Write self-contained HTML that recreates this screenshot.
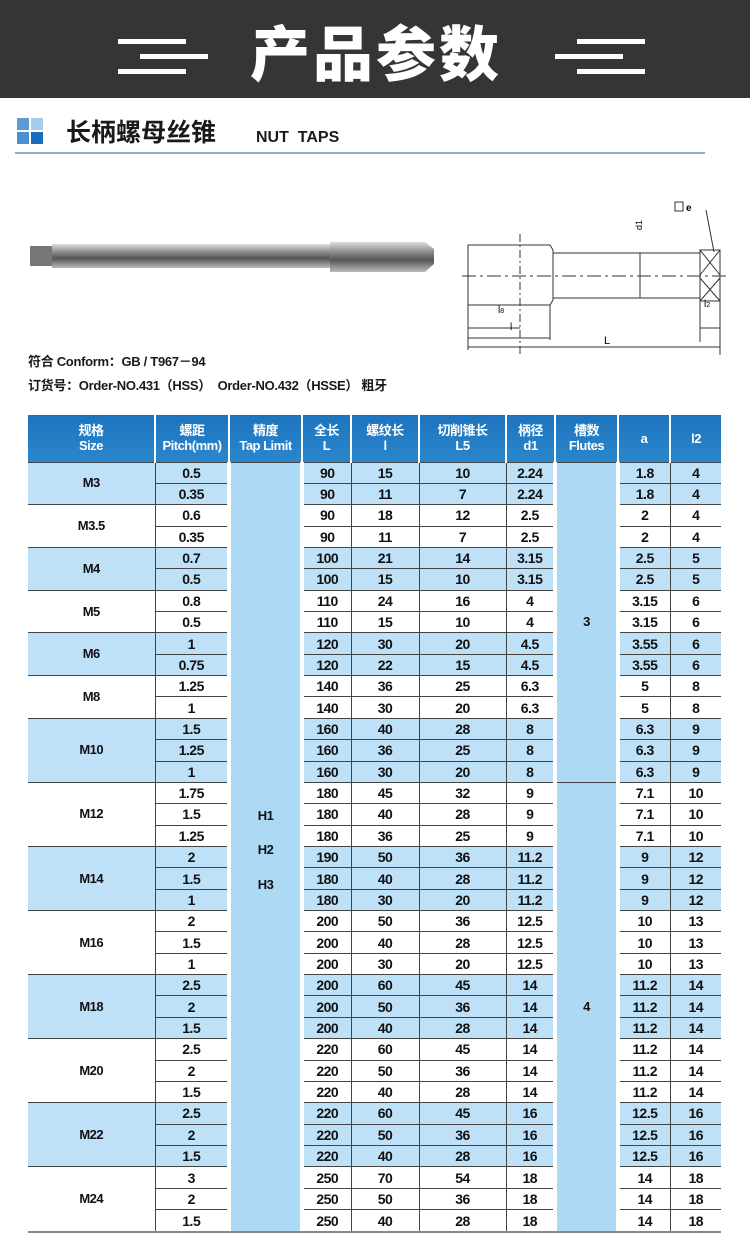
<!DOCTYPE html>
<html><head><meta charset="utf-8">
<style>
*{margin:0;padding:0;box-sizing:border-box}
body{width:750px;height:1244px;background:#fff;position:relative;overflow:hidden;font-family:"Liberation Sans","Noto Sans CJK SC",sans-serif;color:#1a1a1a}
.hdr{position:absolute;left:0;top:0;width:750px;height:98px;background:#353535}
.hdr .t{position:absolute;left:250px;top:16px;font:900 60px "Noto Sans CJK SC",sans-serif;color:#fff;letter-spacing:3px;line-height:70px}
.ln{position:absolute;height:5px;background:#fff}
.abs{position:absolute}
table{position:absolute;left:28px;top:415px;border-collapse:collapse;table-layout:fixed;width:693px}
th{background:linear-gradient(#1d74bd,#2a86cc);color:#fff;font:bold 13px "Liberation Sans","Noto Sans CJK SC",sans-serif;line-height:15px;height:47px;border-left:2px solid #fff;letter-spacing:-0.5px}
th:first-child{border-left:none}
td{height:21.36px;text-align:center;font-size:14px;font-weight:bold;letter-spacing:-0.5px;line-height:18px;border-top:1.5px solid #444;border-left:1.5px solid #444;padding:0;color:#111}
td.sz{border-left:none;font-size:13px}
tr.b td{background:#bfe1f8}
td.tl,td.fl{background:#aed9f5 !important;border-left:4px solid #fff;border-right:4px solid #fff;font-size:13px;vertical-align:top}
td.fl{vertical-align:middle}
</style></head><body>
<div class="hdr">
<div class="ln" style="left:118px;top:39px;width:68px"></div>
<div class="ln" style="left:140px;top:54px;width:68px"></div>
<div class="ln" style="left:118px;top:69px;width:68px"></div>
<div class="ln" style="left:577px;top:39px;width:68px"></div>
<div class="ln" style="left:555px;top:54px;width:68px"></div>
<div class="ln" style="left:577px;top:69px;width:68px"></div>
<div class="t">产品参数</div>
</div>
<div class="abs" style="left:17px;top:118px;width:12px;height:12px;background:#5b9bd5"></div>
<div class="abs" style="left:31px;top:118px;width:12px;height:12px;background:#a9cbea"></div>
<div class="abs" style="left:17px;top:132px;width:12px;height:12px;background:#4a8fd0"></div>
<div class="abs" style="left:31px;top:132px;width:12px;height:12px;background:#1a6cbf"></div>
<div class="abs" style="left:66px;top:114px;font:bold 25px 'Noto Sans CJK SC',sans-serif;line-height:34px">长柄螺母丝锥</div>
<div class="abs" style="left:256px;top:128px;font-size:16px;font-weight:bold;line-height:20px">NUT&nbsp; TAPS</div>
<div class="abs" style="left:15px;top:152px;width:690px;height:2px;background:#8fb0c8"></div>
<svg class="abs" style="left:0;top:190px" width="750" height="170">
<defs><linearGradient id="g" x1="0" y1="0" x2="0" y2="1"><stop offset="0" stop-color="#ddd"/><stop offset=".35" stop-color="#888"/><stop offset=".6" stop-color="#555"/><stop offset="1" stop-color="#bbb"/></linearGradient></defs>
<rect x="30" y="56" width="22" height="20" fill="#777"/>
<rect x="52" y="54" width="280" height="24" fill="url(#g)"/>
<path d="M330 52 L425 52 L434 59 L434 74 L425 82 L330 82 Z" fill="url(#g)"/>
<g stroke="#333" fill="none" stroke-width="1">
<path d="M468 55 L550 55 L553 60 L553 110 L550 115 L468 115 Z"/>
<path d="M553 63 L700 63 L700 108 L553 108"/>
<rect x="700" y="60" width="20" height="51"/>
<path d="M700 60 L720 85 M720 60 L700 85 M700 88 L720 111 M720 88 L700 111"/>
<path d="M462 86 L730 86" stroke-dasharray="14 4 3 4"/>
<path d="M520 44 L520 165" stroke-dasharray="8 3 2 3"/>
<path d="M468 115 L468 160 M550 115 L550 150 M720 111 L720 165 M700 111 L700 152"/>
<path d="M468 138 L520 138 M468 148 L550 148 M468 157 L720 157 M700 138 L720 138 M640 63 L640 108"/>
<path d="M706 20 L714 62"/>
</g>
<text x="498" y="123" font-size="10" font-family="Liberation Sans">l<tspan font-size="7">8</tspan></text>
<text x="510" y="140" font-size="10" font-family="Liberation Sans">l</text>
<text x="604" y="154" font-size="11" font-family="Liberation Sans">L</text>
<text x="704" y="117" font-size="10" font-family="Liberation Sans">l<tspan font-size="7">2</tspan></text>
<text x="634" y="40" font-size="9" font-family="Liberation Sans" transform="rotate(-90 638 36)">d1</text>
<rect x="675" y="12" width="8" height="9" fill="none" stroke="#333"/>
<text x="686" y="21" font-size="10" font-family="Liberation Sans" font-weight="bold">e</text>
</svg>
<div class="abs" style="left:28px;top:353px;font-size:13px;font-weight:bold;line-height:18px;letter-spacing:-0.3px">符合 Conform：GB / T967－94</div>
<div class="abs" style="left:28px;top:377px;font-size:13px;font-weight:bold;line-height:18px;letter-spacing:-0.3px">订货号：Order-NO.431（HSS） &nbsp;Order-NO.432（HSSE） 粗牙</div>
<table>
<colgroup><col style="width:127px"><col style="width:74px"><col style="width:73px"><col style="width:49px"><col style="width:68px"><col style="width:87px"><col style="width:49px"><col style="width:63px"><col style="width:52px"><col style="width:51px"></colgroup>
<tr><th>规格<br>Size</th><th>螺距<br>Pitch(mm)</th><th>精度<br>Tap Limit</th><th>全长<br>L</th><th>螺纹长<br>l</th><th>切削锥长<br>L5</th><th>柄径<br>d1</th><th>槽数<br>Flutes</th><th>a</th><th>l2</th></tr>
<tr class="b"><td class="sz" rowspan="2">M3</td><td>0.5</td><td class="tl" rowspan="36"><div style="padding-top:336px;line-height:34.5px">H1<br>H2<br>H3</div></td><td>90</td><td>15</td><td>10</td><td>2.24</td><td class="fl" rowspan="15">3</td><td>1.8</td><td>4</td></tr>
<tr class="b"><td>0.35</td><td>90</td><td>11</td><td>7</td><td>2.24</td><td>1.8</td><td>4</td></tr>
<tr><td class="sz" rowspan="2">M3.5</td><td>0.6</td><td>90</td><td>18</td><td>12</td><td>2.5</td><td>2</td><td>4</td></tr>
<tr><td>0.35</td><td>90</td><td>11</td><td>7</td><td>2.5</td><td>2</td><td>4</td></tr>
<tr class="b"><td class="sz" rowspan="2">M4</td><td>0.7</td><td>100</td><td>21</td><td>14</td><td>3.15</td><td>2.5</td><td>5</td></tr>
<tr class="b"><td>0.5</td><td>100</td><td>15</td><td>10</td><td>3.15</td><td>2.5</td><td>5</td></tr>
<tr><td class="sz" rowspan="2">M5</td><td>0.8</td><td>110</td><td>24</td><td>16</td><td>4</td><td>3.15</td><td>6</td></tr>
<tr><td>0.5</td><td>110</td><td>15</td><td>10</td><td>4</td><td>3.15</td><td>6</td></tr>
<tr class="b"><td class="sz" rowspan="2">M6</td><td>1</td><td>120</td><td>30</td><td>20</td><td>4.5</td><td>3.55</td><td>6</td></tr>
<tr class="b"><td>0.75</td><td>120</td><td>22</td><td>15</td><td>4.5</td><td>3.55</td><td>6</td></tr>
<tr><td class="sz" rowspan="2">M8</td><td>1.25</td><td>140</td><td>36</td><td>25</td><td>6.3</td><td>5</td><td>8</td></tr>
<tr><td>1</td><td>140</td><td>30</td><td>20</td><td>6.3</td><td>5</td><td>8</td></tr>
<tr class="b"><td class="sz" rowspan="3">M10</td><td>1.5</td><td>160</td><td>40</td><td>28</td><td>8</td><td>6.3</td><td>9</td></tr>
<tr class="b"><td>1.25</td><td>160</td><td>36</td><td>25</td><td>8</td><td>6.3</td><td>9</td></tr>
<tr class="b"><td>1</td><td>160</td><td>30</td><td>20</td><td>8</td><td>6.3</td><td>9</td></tr>
<tr><td class="sz" rowspan="3">M12</td><td>1.75</td><td>180</td><td>45</td><td>32</td><td>9</td><td class="fl" rowspan="21">4</td><td>7.1</td><td>10</td></tr>
<tr><td>1.5</td><td>180</td><td>40</td><td>28</td><td>9</td><td>7.1</td><td>10</td></tr>
<tr><td>1.25</td><td>180</td><td>36</td><td>25</td><td>9</td><td>7.1</td><td>10</td></tr>
<tr class="b"><td class="sz" rowspan="3">M14</td><td>2</td><td>190</td><td>50</td><td>36</td><td>11.2</td><td>9</td><td>12</td></tr>
<tr class="b"><td>1.5</td><td>180</td><td>40</td><td>28</td><td>11.2</td><td>9</td><td>12</td></tr>
<tr class="b"><td>1</td><td>180</td><td>30</td><td>20</td><td>11.2</td><td>9</td><td>12</td></tr>
<tr><td class="sz" rowspan="3">M16</td><td>2</td><td>200</td><td>50</td><td>36</td><td>12.5</td><td>10</td><td>13</td></tr>
<tr><td>1.5</td><td>200</td><td>40</td><td>28</td><td>12.5</td><td>10</td><td>13</td></tr>
<tr><td>1</td><td>200</td><td>30</td><td>20</td><td>12.5</td><td>10</td><td>13</td></tr>
<tr class="b"><td class="sz" rowspan="3">M18</td><td>2.5</td><td>200</td><td>60</td><td>45</td><td>14</td><td>11.2</td><td>14</td></tr>
<tr class="b"><td>2</td><td>200</td><td>50</td><td>36</td><td>14</td><td>11.2</td><td>14</td></tr>
<tr class="b"><td>1.5</td><td>200</td><td>40</td><td>28</td><td>14</td><td>11.2</td><td>14</td></tr>
<tr><td class="sz" rowspan="3">M20</td><td>2.5</td><td>220</td><td>60</td><td>45</td><td>14</td><td>11.2</td><td>14</td></tr>
<tr><td>2</td><td>220</td><td>50</td><td>36</td><td>14</td><td>11.2</td><td>14</td></tr>
<tr><td>1.5</td><td>220</td><td>40</td><td>28</td><td>14</td><td>11.2</td><td>14</td></tr>
<tr class="b"><td class="sz" rowspan="3">M22</td><td>2.5</td><td>220</td><td>60</td><td>45</td><td>16</td><td>12.5</td><td>16</td></tr>
<tr class="b"><td>2</td><td>220</td><td>50</td><td>36</td><td>16</td><td>12.5</td><td>16</td></tr>
<tr class="b"><td>1.5</td><td>220</td><td>40</td><td>28</td><td>16</td><td>12.5</td><td>16</td></tr>
<tr><td class="sz" rowspan="3">M24</td><td>3</td><td>250</td><td>70</td><td>54</td><td>18</td><td>14</td><td>18</td></tr>
<tr><td>2</td><td>250</td><td>50</td><td>36</td><td>18</td><td>14</td><td>18</td></tr>
<tr><td>1.5</td><td>250</td><td>40</td><td>28</td><td>18</td><td>14</td><td>18</td></tr>
</table>
<div class="abs" style="left:28px;top:1231px;width:693px;height:2px;background:#888"></div>
</body></html>
